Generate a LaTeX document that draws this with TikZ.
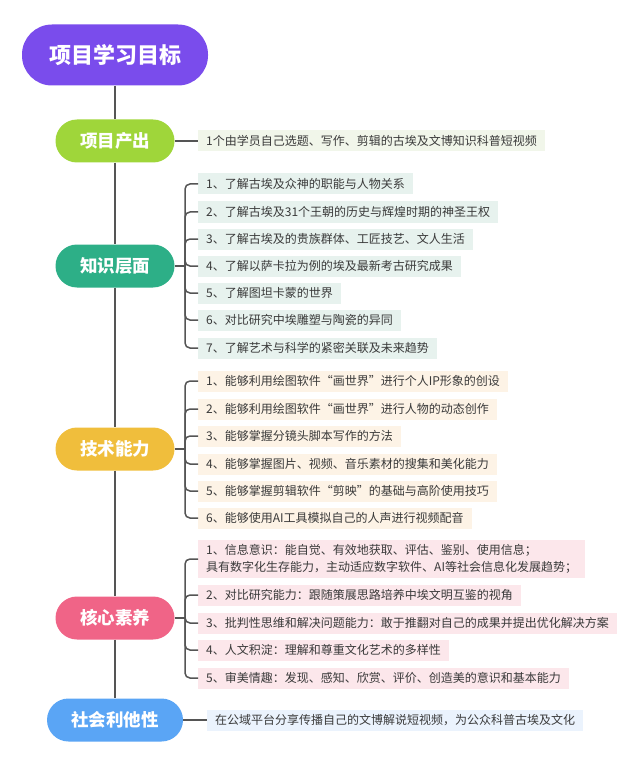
\documentclass[tikz,border=0pt]{standalone}
\usepackage{fontspec}
\setmainfont{Noto Sans CJK SC}

\definecolor{roxo}{RGB}{122,76,236}
\definecolor{lima}{RGB}{159,214,58}
\definecolor{verde}{RGB}{45,175,135}
\definecolor{amarelo}{RGB}{240,190,60}
\definecolor{rosa}{RGB}{240,100,135}
\definecolor{azul}{RGB}{90,165,245}
\definecolor{limaclaro}{RGB}{241,246,234}
\definecolor{verdeclaro}{RGB}{231,242,238}
\definecolor{amareloclaro}{RGB}{253,243,230}
\definecolor{rosaclaro}{RGB}{252,231,235}
\definecolor{azulclaro}{RGB}{235,243,253}
\definecolor{cinza}{RGB}{85,85,85}
\definecolor{texto}{RGB}{58,58,58}

\begin{document}
\begin{tikzpicture}[
        x=1pt, y=-1pt,
        tema/.style={fill=roxo, text=white, minimum width=186pt, minimum height=61pt, rounded corners=30pt, font=\fontsize{22}{26}\selectfont\bfseries},
        ramo/.style={text=white, minimum width=119pt, minimum height=43pt, rounded corners=21.5pt, font=\fontsize{17.5}{20}\selectfont\bfseries},
        folha/.style={anchor=west, text=texto, minimum height=21pt, inner xsep=8pt, inner ysep=4pt, align=left, font=\fontsize{12}{17}\selectfont},
        linha/.style={draw=cinza, line width=2.5pt},
        galho/.style={draw=cinza, line width=1.5pt, rounded corners=5pt}
    ]

        \useasboundingbox (0,0) rectangle (640,767);

        % ==================================================
        % TEMA E RAMOS
        % ==================================================

        \node[tema] (r0) at (115,55) {项目学习目标};

        \node[ramo, fill=lima]    (r1) at (115,141) {项目产出};
        \node[ramo, fill=verde]   (r2) at (115,266) {知识层面};
        \node[ramo, fill=amarelo] (r3) at (115,449) {技术能力};
        \node[ramo, fill=rosa]    (r4) at (115,618) {核心素养};
        \node[ramo, fill=azul, minimum width=136pt] (r5) at (115,720) {社会利他性};

        % Eixo central
        \foreach \a/\b in {r0/r1, r1/r2, r2/r3, r3/r4, r4/r5}
            \draw[linha] (\a) -- (\b);

        % ==================================================
        % FOLHAS
        % ==================================================

        % Projeto
        \node[folha, fill=limaclaro] (a1) at (198,141) {1个由学员自己选题、写作、剪辑的古埃及文博知识科普短视频};

        % Conhecimento
        \node[folha, fill=verdeclaro] (b1) at (198,184) {1、了解古埃及众神的职能与人物关系};
        \node[folha, fill=verdeclaro] (b2) at (198,212) {2、了解古埃及31个王朝的历史与辉煌时期的神圣王权};
        \node[folha, fill=verdeclaro] (b3) at (198,239) {3、了解古埃及的贵族群体、工匠技艺、文人生活};
        \node[folha, fill=verdeclaro] (b4) at (198,266) {4、了解以萨卡拉为例的埃及最新考古研究成果};
        \node[folha, fill=verdeclaro] (b5) at (198,293) {5、了解图坦卡蒙的世界};
        \node[folha, fill=verdeclaro] (b6) at (198,320) {6、对比研究中埃雕塑与陶瓷的异同};
        \node[folha, fill=verdeclaro] (b7) at (198,348) {7、了解艺术与科学的紧密关联及未来趋势};

        % Tecnica
        \node[folha, fill=amareloclaro] (c1) at (198,381) {1、能够利用绘图软件“画世界”进行个人IP形象的创设};
        \node[folha, fill=amareloclaro] (c2) at (198,409) {2、能够利用绘图软件“画世界”进行人物的动态创作};
        \node[folha, fill=amareloclaro] (c3) at (198,436) {3、能够掌握分镜头脚本写作的方法};
        \node[folha, fill=amareloclaro] (c4) at (198,464) {4、能够掌握图片、视频、音乐素材的搜集和美化能力};
        \node[folha, fill=amareloclaro] (c5) at (198,491) {5、能够掌握剪辑软件“剪映”的基础与高阶使用技巧};
        \node[folha, fill=amareloclaro] (c6) at (198,518) {6、能够使用AI工具模拟自己的人声进行视频配音};

        % Nucleo
        \node[folha, fill=rosaclaro] (d1) at (198,559) {1、信息意识：能自觉、有效地获取、评估、鉴别、使用信息；\\具有数字化生存能力，主动适应数字软件、AI等社会信息化发展趋势；};
        \node[folha, fill=rosaclaro] (d2) at (198,595) {2、对比研究能力：跟随策展思路培养中埃文明互鉴的视角};
        \node[folha, fill=rosaclaro] (d3) at (198,623) {3、批判性思维和解决问题能力：敢于推翻对自己的成果并提出优化解决方案};
        \node[folha, fill=rosaclaro] (d4) at (198,650) {4、人文积淀：理解和尊重文化艺术的多样性};
        \node[folha, fill=rosaclaro] (d5) at (198,678) {5、审美情趣：发现、感知、欣赏、评价、创造美的意识和基本能力};

        % Social
        \node[folha, fill=azulclaro] (e1) at (207,720) {在公域平台分享传播自己的文博解说短视频，为公众科普古埃及文化};

        % ==================================================
        % GALHOS
        % ==================================================

        \coordinate (h2) at (185,266);
        \coordinate (h3) at (185,449);
        \coordinate (h4) at (185,618);

        \draw[galho] (r1) -- (a1);
        \draw[galho] (r5) -- (e1);

        \draw[galho] (r2.east) -- (h2);
        \foreach \i in {1,...,7}
            \draw[galho] (h2) |- (b\i.west);

        \draw[galho] (r3.east) -- (h3);
        \foreach \i in {1,...,6}
            \draw[galho] (h3) |- (c\i.west);

        \draw[galho] (r4.east) -- (h4);
        \foreach \i in {1,...,5}
            \draw[galho] (h4) |- (d\i.west);

    \end{tikzpicture}
\end{document}
